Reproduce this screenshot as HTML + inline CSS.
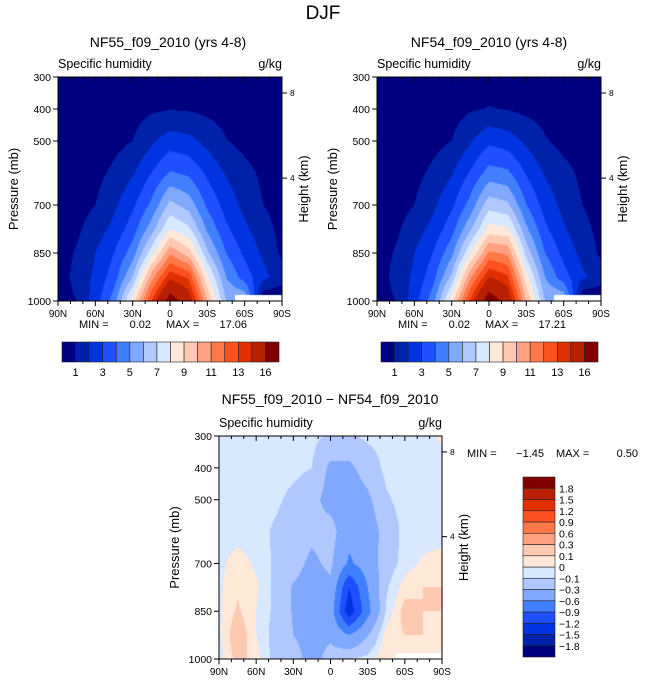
<!DOCTYPE html>
<html><head><meta charset="utf-8"><style>
html,body{margin:0;padding:0;background:#fff;width:647px;height:684px;overflow:hidden}
#wrap{position:relative;width:647px;height:684px}
canvas{position:absolute}
svg{position:absolute;left:0;top:0}
text{font-family:"Liberation Sans",sans-serif;fill:#000}
</style></head><body>
<div id="wrap">
<canvas id="cA"></canvas>
<canvas id="cB"></canvas>
<canvas id="cC"></canvas>
<svg id="ov" width="647" height="684"></svg>
</div>
<script>
const lats=[90,75,60,45,30,15,0,-15,-30,-45,-60,-75,-90];
const pres=[300,400,500,600,700,775,850,925,1000];
const q55=[
[.02,.05,.1,.2,.3,.4,.45,.45,.4,.3,.2,.1,.1],
[.05,.1,.2,.4,.6,.85,.95,.9,.75,.6,.4,.3,.2],
[.1,.2,.4,.7,1.0,1.8,2.5,2.3,1.7,1.05,.7,.5,.3],
[.2,.4,.7,1.2,1.9,3.0,4.1,3.8,2.8,1.9,1.3,.8,.4],
[.3,.6,1.0,1.8,2.8,4.2,6.3,5.6,3.8,2.6,1.7,1.0,.6],
[.4,.8,1.5,2.3,3.5,5.5,8.0,7.2,4.8,3.2,2.2,1.4,.7],
[.5,1.1,2.0,3.0,4.5,7.5,10.8,9.5,6.2,4.0,2.8,1.8,.8],
[.5,1.3,2.2,3.5,6.0,10.5,13.7,12.8,8.2,5.0,3.5,2.3,1.5],
[.5,1.0,2.5,4.5,8.5,13,17,15,10,6,null,null,null]];
const q54=[
[.02,.05,.1,.2,.3,.4,.5,.45,.4,.3,.2,.1,.1],
[.05,.1,.2,.4,.6,.9,1.05,.95,.75,.6,.4,.3,.2],
[.1,.2,.4,.7,1.0,1.9,2.8,2.5,1.8,1.1,.7,.5,.3],
[.2,.4,.7,1.2,1.9,3.1,4.4,4.2,2.9,1.9,1.3,.8,.4],
[.3,.6,1.0,1.8,2.8,4.4,6.6,6.2,4.0,2.6,1.7,1.0,.6],
[.4,.8,1.5,2.3,3.6,5.8,8.4,8.2,5.2,3.2,2.1,1.3,.7],
[.5,1.1,2.0,3.0,4.7,7.9,11.2,10.8,6.6,4.0,2.7,1.7,.8],
[.5,1.3,2.2,3.6,6.2,10.8,14.0,13.2,8.4,5.0,3.4,2.2,1.5],
[.5,1.0,2.5,4.6,8.6,13.2,17.2,15.2,10,6,null,null,null]];
const dq=[
[-.05,-.05,-.05,-.05,-.05,-.06,-.12,-.12,-.07,-.05,-.05,-.05,.02],
[-.05,-.05,-.05,-.05,-.06,-.1,-.35,-.35,-.2,-.06,-.05,-.05,-.05],
[-.05,-.05,-.05,-.07,-.14,-.22,-.4,-.45,-.35,-.12,-.05,-.05,-.05],
[-.05,-.05,-.05,-.12,-.18,-.25,-.2,-.5,-.45,-.2,-.06,-.05,-.05],
[-.03,.05,-.02,-.12,-.22,-.35,-.25,-.65,-.45,-.18,-.05,.02,.05],
[-.02,.08,.02,-.13,-.32,-.4,-.35,-1.2,-.6,-.12,.05,.1,.1],
[-.02,.12,.0,-.13,-.32,-.35,-.45,-1.4,-.7,-.08,.15,.1,.1],
[-.03,.2,0,-.15,-.3,-.4,-.35,-.6,-.32,.05,.1,.1,.05],
[-.05,.15,.05,-.15,-.2,-.4,-.2,-.1,-.05,.1,null,null,null]];
const absLevels=[1,2,3,4,5,6,7,8,9,10,11,12,13,14,16];
const absLabels=["1","3","5","7","9","11","13","16"];
const absLabelIdx=[0,2,4,6,8,10,12,14];
const diffLevels=[-1.8,-1.5,-1.2,-0.9,-0.6,-0.3,-0.1,0,0.1,0.3,0.6,0.9,1.2,1.5,1.8];
const diffLabels=["−1.8","−1.5","−1.2","−0.9","−0.6","−0.3","−0.1","0","0.1","0.3","0.6","0.9","1.2","1.5","1.8"];
const palette=["#000080","#0022aa","#0034e0","#1e50ff","#4080ff","#80a8ff","#b0c8ff","#d8e8ff","#ffe8d8","#ffc8b0","#ffa080","#ff7848","#ff5020","#e03000","#b82000","#800000"];
const latTicks=[90,60,30,0,-30,-60,-90];
const latTickLabels=["90N","60N","30N","0","30S","60S","90S"];
const presTicks=[300,400,500,700,850,1000];
const heightTicks=[350,616];
const heightLabels=["8","4"];

const P={A:{x0:58,y0:77,w:224,h:224},B:{x0:377,y0:77,w:224,h:224},C:{x0:219,y0:436,w:223,h:223}};
function xOf(pn,lat){return pn.x0+(90-lat)/180*pn.w;}
function yOf(pn,p){return pn.y0+(p-300)/700*pn.h;}
function hexRGB(h){return [parseInt(h.slice(1,3),16),parseInt(h.slice(3,5),16),parseInt(h.slice(5,7),16)];}
const palRGB=palette.map(hexRGB);
function sample(g,lat,p){
  let i=0;while(i<lats.length-2&&lat<lats[i+1])i++;
  let j=0;while(j<pres.length-2&&p>pres[j+1])j++;
  const tx=(lats[i]-lat)/(lats[i]-lats[i+1]);
  const ty=(p-pres[j])/(pres[j+1]-pres[j]);
  const ni=tx<0.5?i:i+1, nj=ty<0.75?j:j+1;
  if(g[nj][ni]===null)return null;
  function v(a,b){const x=g[a][b];return x===null?g[a][b-1]:x;}
  const a=v(j,i),b=v(j,i+1),c=v(j+1,i),d=v(j+1,i+1);
  return (a*(1-tx)+b*tx)*(1-ty)+(c*(1-tx)+d*tx)*ty;
}
function levelIdx(levels,v){let k=0;while(k<levels.length&&v>=levels[k])k++;return k;}
function drawField(id,pn,g,levels){
  const cv=document.getElementById(id);
  cv.width=pn.w;cv.height=pn.h;cv.style.left=pn.x0+'px';cv.style.top=pn.y0+'px';
  const ctx=cv.getContext('2d');const im=ctx.createImageData(pn.w,pn.h);
  for(let y=0;y<pn.h;y++)for(let x=0;x<pn.w;x++){
    const lat=90-(x+0.5)/pn.w*180, p=300+(y+0.5)/pn.h*700;
    const v=sample(g,lat,p);const o=(y*pn.w+x)*4;
    let c=[255,255,255];if(v!==null)c=palRGB[levelIdx(levels,v)];
    im.data[o]=c[0];im.data[o+1]=c[1];im.data[o+2]=c[2];im.data[o+3]=255;
  }
  ctx.putImageData(im,0,0);
}
drawField('cA',P.A,q55,absLevels);
drawField('cB',P.B,q54,absLevels);
drawField('cC',P.C,dq,diffLevels);

const NS="http://www.w3.org/2000/svg";const ov=document.getElementById('ov');
function el(tag,attrs,txt){const e=document.createElementNS(NS,tag);for(const k in attrs)e.setAttribute(k,attrs[k]);if(txt!==undefined)e.textContent=txt;ov.appendChild(e);return e;}
function txt(x,y,s,size,anchor,name,extra){const t=el('text',Object.assign({x:x,y:y,'font-size':size,'text-anchor':anchor||'start'},extra||{}),s);

return t;}

txt(323,19,"DJF",19,'middle','figure-title',{fill:'#555'});
function axes(pn,key,title,tx,ty,minS,maxS,mm){
  txt(tx,ty,title,14,'middle',key+'-title');
  txt(pn.x0,pn.y0-9,"Specific humidity",12.5,'start',key+'-variable-label');
  txt(pn.x0+pn.w,pn.y0-9,"g/kg",12.5,'end',key+'-units-label');
  const fr=el('rect',{x:pn.x0,y:pn.y0,width:pn.w,height:pn.h,fill:'none',stroke:'#000','stroke-width':1});
  
  
  for(let l=90;l>=-90;l-=10){const x=xOf(pn,l);const maj=(l%30===0);
    const t1=el('line',{x1:x,x2:x,y1:pn.y0+pn.h,y2:pn.y0+pn.h+(maj?5:3),stroke:'#000'});
    
    
    const t2=el('line',{x1:x,x2:x,y1:pn.y0,y2:pn.y0+(maj?5:3),stroke:'#000'});
    
    }
  latTicks.forEach((l,i)=>{txt(xOf(pn,l),pn.y0+pn.h+16,latTickLabels[i],10,'middle',key+'-x-tick-label');});
  presTicks.forEach(p=>{const y=yOf(pn,p);
    const t=el('line',{x1:pn.x0-5,x2:pn.x0,y1:y,y2:y,stroke:'#000'});
    
    
    txt(pn.x0-7,y+4,String(p),10.5,'end',key+'-y-tick-label');});
  heightTicks.forEach((p,i)=>{const y=yOf(pn,p);
    const t=el('line',{x1:pn.x0+pn.w,x2:pn.x0+pn.w+5,y1:y,y2:y,stroke:'#000'});
    
    
    txt(pn.x0+pn.w+8,y+3,heightLabels[i],8.5,'start',key+'-height-tick-label');});
  const cy=pn.y0+pn.h/2;
  txt(pn.x0-40,cy,"Pressure (mb)",13,'middle',key+'-y-axis-title',{transform:`rotate(-90 ${pn.x0-40} ${cy})`,fill:'#333'});
  txt(pn.x0+pn.w+26,cy,"Height (km)",13,'middle',key+'-height-axis-title',{transform:`rotate(-90 ${pn.x0+pn.w+26} ${cy})`,fill:'#333'});
  if(mm){txt(mm[0],mm[1],"MIN =",11,'start',key+'-min-label');txt(mm[0]+72,mm[1],minS,11,'end',key+'-min-value');
    txt(mm[0]+87,mm[1],"MAX =",11,'start',key+'-max-label');txt(mm[0]+168,mm[1],maxS,11,'end',key+'-max-value');}
}
axes(P.A,'nf55',"NF55_f09_2010 (yrs 4-8)",168,47,"0.02","17.06",[79,328]);
axes(P.B,'nf54',"NF54_f09_2010 (yrs 4-8)",489,47,"0.02","17.21",[398,328]);
axes(P.C,'diff',"NF55_f09_2010 − NF54_f09_2010",330,404,"","",null);
txt(467,457,"MIN =",11,'start','diff-min-label');txt(544,457,"−1.45",11,'end','diff-min-value');
txt(556,457,"MAX =",11,'start','diff-max-label');txt(638,457,"0.50",11,'end','diff-max-value');

function hbar(key,x0,y0,w,h){const bw=w/16;
  palette.forEach((c,i)=>{const r=el('rect',{x:x0+i*bw,y:y0,width:bw,height:h,fill:c,stroke:'#222','stroke-width':0.6});
    
    });
  absLabelIdx.forEach((k,i)=>{txt(x0+(k+1)*bw,y0+h+14,absLabels[i],11,'middle',key+'-colorbar-label');});
}
hbar('nf55',62,342,217,20);
hbar('nf54',381,342,217,20);
(function(){const x0=523,y0=477,w=32,h=180,bh=h/16;
  palette.forEach((c,i)=>{const r=el('rect',{x:x0,y:y0+h-(i+1)*bh,width:w,height:bh,fill:c,stroke:'#222','stroke-width':0.6});
    
    });
  diffLevels.forEach((v,i)=>{txt(x0+w+4,y0+h-(i+1)*bh+4,diffLabels[i],10.5,'start','diff-colorbar-label');});
})();
</script>
</body></html>
